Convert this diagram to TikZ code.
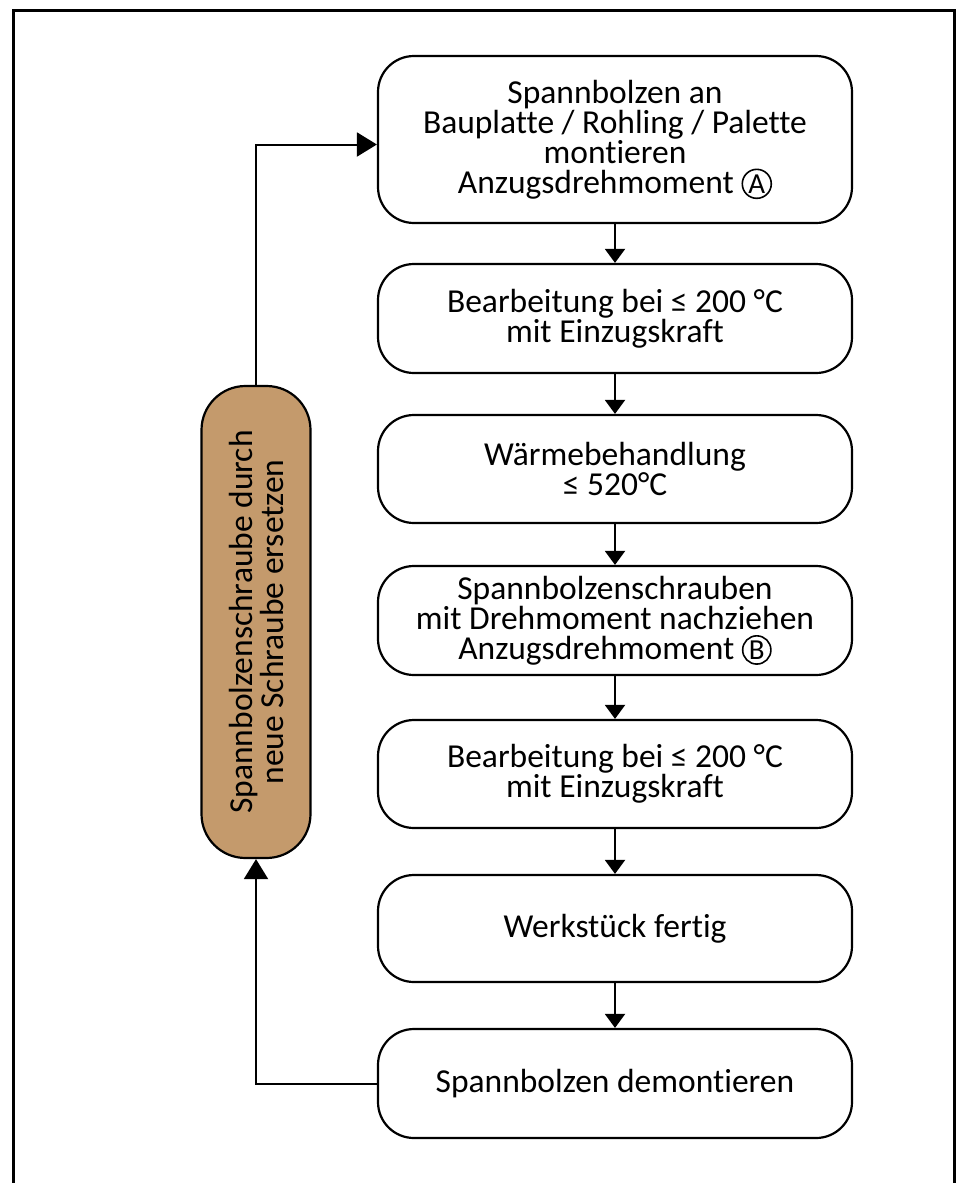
\documentclass[tikz,border=0pt]{standalone}
\usepackage{fontspec}
\setmainfont[Ligatures=NoCommon]{Carlito}
\usetikzlibrary{arrows.meta}
\newcommand{\circlet}[1]{\tikz[baseline=(cl.base)]\node[circle,draw,line width=1.6pt,inner sep=1.4pt,rounded corners=0pt,minimum size=0pt,font=\fontsize{29}{29}\selectfont](cl){#1};}
\begin{document}
\begin{tikzpicture}[x=1pt,y=-1pt,
  stepbox/.style={draw, line width=2.2pt, rounded corners=36pt, minimum width=474pt, align=center, inner sep=0pt, font=\fontsize{33.5}{30}\selectfont},
  brownbox/.style={draw, line width=2.2pt, rounded corners=44pt, fill={rgb,255:red,196;green,154;blue,108}, align=center, inner sep=0pt, font=\fontsize{33.5}{31}\selectfont},
  arr/.style={line width=2pt, -{Triangle[length=14pt,width=20pt]}},
  bigarr/.style={line width=2pt, -{Triangle[length=20pt,width=24pt]}}]
\useasboundingbox (0,0) rectangle (956,1183);
\draw[line width=3pt] (13,1200) -- (13,10) -- (954,10) -- (954,1200);

\node[stepbox, minimum height=167pt] (b1) at (615,139.5) {Spannbolzen an\\Bauplatte / Rohling / Palette\\montieren\\Anzugsdrehmoment \circlet{A}};
\node[stepbox, minimum height=109pt] (b2) at (615,318.5) {Bearbeitung bei ≤ 200 °C\\mit Einzugskraft};
\node[stepbox, minimum height=108pt] (b3) at (615,469) {Wärmebehandlung\\≤ 520°C};
\node[stepbox, minimum height=109pt] (b4) at (615,620.5) {Spannbolzenschrauben\\mit Drehmoment nachziehen\\Anzugsdrehmoment \circlet{B}};
\node[stepbox, minimum height=108pt] (b5) at (615,774) {Bearbeitung bei ≤ 200 °C\\mit Einzugskraft};
\node[stepbox, minimum height=107pt] (b6) at (615,928.5) {Werkstück fertig};
\node[stepbox, minimum height=109pt] (b7) at (615,1083.5) {Spannbolzen demontieren};

\node[brownbox, rotate=90, minimum width=472pt, minimum height=109pt] (br) at (256,622) {Spannbolzenschraube durch\\neue Schraube ersetzen};

\draw[arr] (b1) -- (b2);
\draw[arr] (b2) -- (b3);
\draw[arr] (b3) -- (b4);
\draw[arr] (b4) -- (b5);
\draw[arr] (b5) -- (b6);
\draw[arr] (b6) -- (b7);

\draw[bigarr] (b7.west) -| (br.west);
\draw[bigarr] (br.east) |- ([yshift=-5pt]b1.west);
\end{tikzpicture}
\end{document}
